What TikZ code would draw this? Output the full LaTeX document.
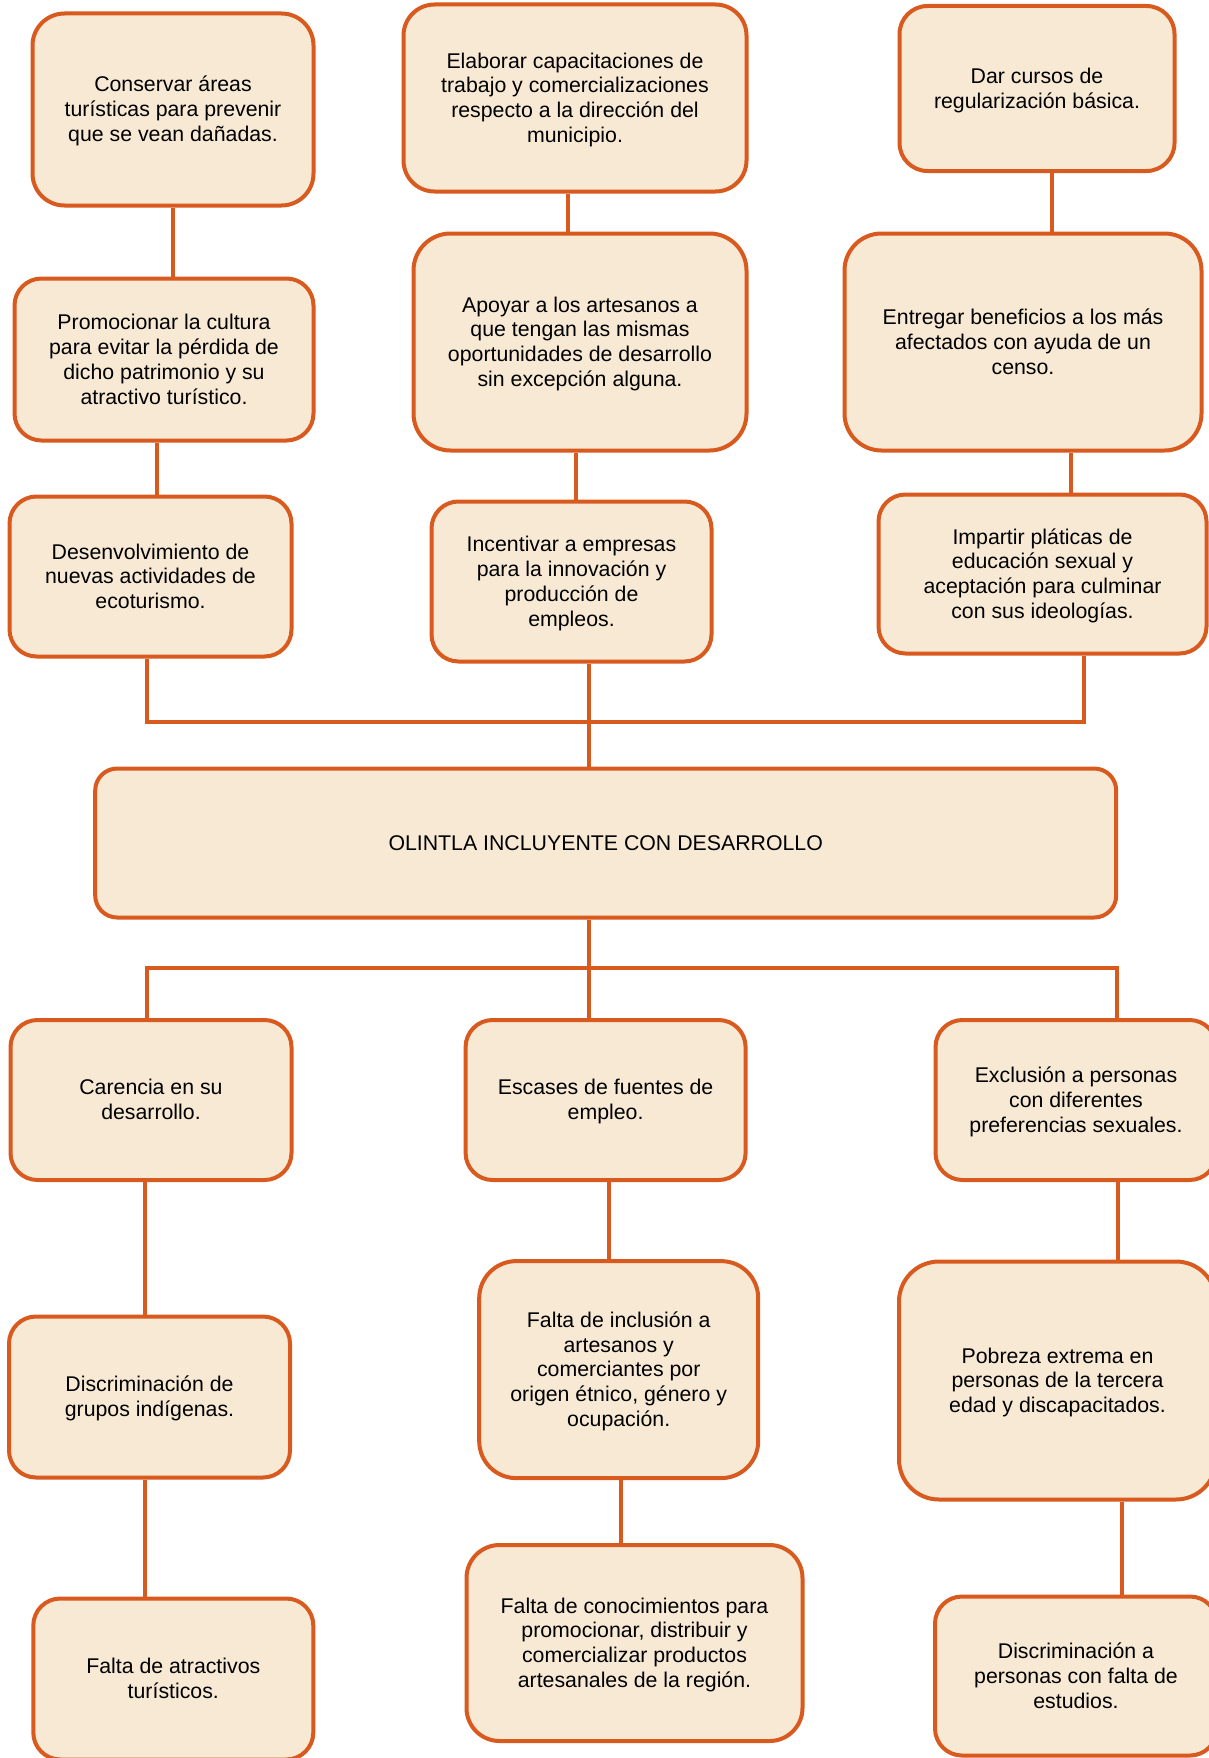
\documentclass[tikz,border=0pt]{standalone}
\usepackage{fontspec}
\setmainfont{Liberation Sans}

\definecolor{naranja}{RGB}{216,90,30}
\definecolor{crema}{RGB}{248,233,212}
\newcommand\letra{\fontsize{21.3}{24.8}\selectfont}

\begin{document}
\begin{tikzpicture}
    [   x = 1pt, y = -1pt
    ,   caja/.style = {draw = naranja, fill = crema, line width = 4pt, rounded corners = #1, align = flush center, inner sep = 2pt, font = \letra,
                       execute at begin node = {\rule{0pt}{19.3pt}}, execute at end node = {\rule[-4.7pt]{0pt}{4.7pt}}}
    ,   caja/.default = 27pt
    ,   tam/.style 2 args = {minimum width = #1, minimum height = #2, text width = {#1-40pt}}
    ,   linea/.style = {draw = naranja, line width = 4pt}
    ]
    \clip (0,0) rectangle (1209,1758);
    \fill[white] (0,0) rectangle (1209,1758);

    % propuestas
    \node[caja=32pt, tam={281pt}{192pt}] (A1) at (173,109.5) {Conservar áreas\\turísticas para prevenir\\que se vean dañadas.};
    \node[caja=31pt, tam={343pt}{187pt}] (B1) at (575,98) {Elaborar capacitaciones de\\trabajo y comercializaciones\\respecto a la dirección del\\municipio.};
    \node[caja=28pt, tam={275pt}{165pt}] (C1) at (1037,88.5) {Dar cursos de\\regularización básica.};
    \node[caja, tam={299pt}{162pt}] (A2) at (164,359.5) {Promocionar la cultura\\para evitar la pérdida de\\dicho patrimonio y su\\atractivo turístico.};
    \node[caja=37pt, tam={333pt}{217pt}] (B2) at (580,342) {Apoyar a los artesanos a\\que tengan las mismas\\oportunidades de desarrollo\\sin excepción alguna.};
    \node[caja=37pt, tam={357pt}{217pt}] (C2) at (1023,342) {Entregar beneficios a los más\\afectados con ayuda de un\\censo.};
    \node[caja, tam={282pt}{160pt}] (A3) at (150.5,576.5) {Desenvolvimiento de\\nuevas actividades de\\ecoturismo.};
    \node[caja, tam={280pt}{160pt}] (B3) at (571.5,581.5) {Incentivar a empresas\\para la innovación y\\producción de\\empleos.};
    \node[caja, tam={328pt}{159pt}] (C3) at (1042.5,574) {Impartir pláticas de\\educación sexual y\\aceptación para culminar\\con sus ideologías.};

    % objetivo
    \node[caja=22pt, tam={1021pt}{149pt}] (M) at (605.7,843) {OLINTLA INCLUYENTE CON DESARROLLO};

    % problemas
    \node[caja, tam={281pt}{160pt}] (A4) at (151,1100) {Carencia en su\\desarrollo.};
    \node[caja, tam={280pt}{160pt}] (B4) at (605.6,1100) {Escases de fuentes de\\empleo.};
    \node[caja, tam={281pt}{160pt}] (C4) at (1076,1100) {Exclusión a personas\\con diferentes\\preferencias sexuales.};
    \node[caja, tam={281pt}{161pt}] (A5) at (149.5,1397) {Discriminación de\\grupos indígenas.};
    \node[caja=37pt, tam={279pt}{217pt}] (B5) at (618.7,1369.6) {Falta de inclusión a\\artesanos y\\comerciantes por\\origen étnico, género y\\ocupación.};
    \node[caja=40pt, tam={317pt}{238pt}] (C5) at (1057.5,1380.5) {Pobreza extrema en\\personas de la tercera\\edad y discapacitados.};
    \node[caja, tam={280pt}{161pt}] (A6) at (173.3,1679) {Falta de atractivos\\turísticos.};
    \node[caja=33pt, tam={336pt}{196pt}] (B6) at (634.5,1643) {Falta de conocimientos para\\promocionar, distribuir y\\comercializar productos\\artesanales de la región.};
    \node[caja, tam={282pt}{159pt}] (C6) at (1076,1676) {Discriminación a\\personas con falta de\\estudios.};

    % uniones en columna
    \foreach\a/\b/\d in {A1/A2/0,A2/A3/-7,B1/B2/-7,B2/B3/-4,C1/C2/15,C2/C3/48,A4/A5/-6,A5/A6/-4.5,B4/B5/3.4,B5/B6/2.3,C4/C5/41.5,C5/C6/64.5}
    {
        \coordinate (p) at ([xshift=\d pt]\a.south);
        \draw[linea] (p) -- (p |- \b.north);
    }

    % barras
    \coordinate (barra1) at (589,722);
    \coordinate (barra2) at (589,968);
    \draw[linea] ([xshift=-4pt]A3.south) |- (barra1) -| ([xshift=41.5pt]C3.south);
    \draw[linea] (B3.south -| barra1) -- (M.north -| barra1);
    \draw[linea] (M.south -| barra2) -- (B4.north -| barra2);
    \draw[linea] ([xshift=-4pt]A4.north) |- (barra2) -| ([xshift=40.6pt]C4.north);
\end{tikzpicture}
\end{document}
